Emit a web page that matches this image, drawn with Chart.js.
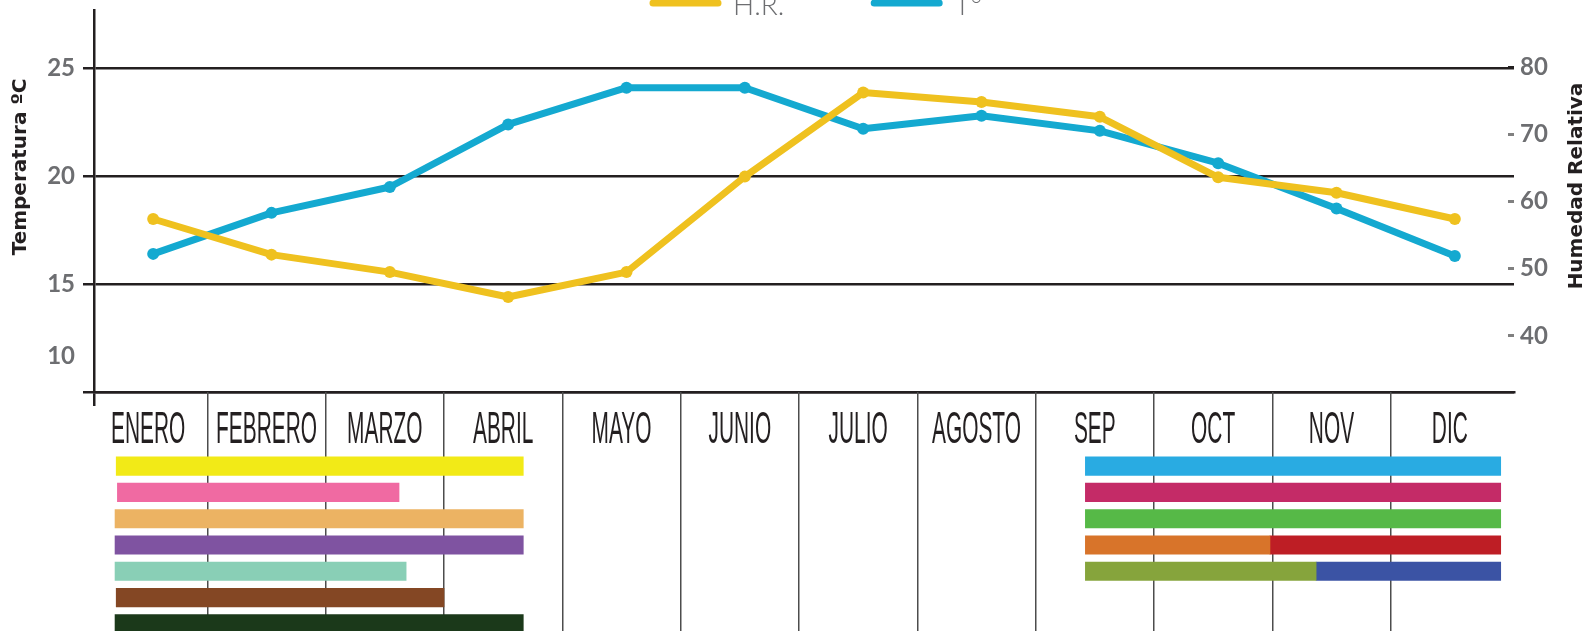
<!DOCTYPE html>
<html lang="es">
<head>
<meta charset="utf-8">
<title>Temperatura y humedad relativa</title>
<script src="https://cdn.jsdelivr.net/npm/chart.js@4.4.1/dist/chart.umd.min.js"></script>
<style>
  html, body { margin: 0; padding: 0; background: #fff; overflow: hidden; }
  #wrap { position: relative; width: 1593px; height: 631px; overflow: hidden; }
  canvas { position: absolute; left: 0; top: 0; }
</style>
</head>
<body>
<div id="wrap">
  <canvas id="lineas" width="1593" height="631" style="width:1593px;height:631px"></canvas>
  <canvas id="barras" width="1593" height="637" style="width:1593px;height:637px"></canvas>
</div>
<script>
const meses = ['ENERO', 'FEBRERO', 'MARZO', 'ABRIL', 'MAYO', 'JUNIO', 'JULIO', 'AGOSTO', 'SEP', 'OCT', 'NOV', 'DIC']
const humedad = [57.4, 52.1, 49.5, 45.8, 49.5, 63.7, 76.2, 74.8, 72.6, 63.6, 61.3, 57.4]
const temperatura = [16.4, 18.3, 19.5, 22.4, 24.1, 24.1, 22.2, 22.8, 22.1, 20.6, 18.5, 16.3]
const ticksTemp = [10, 15, 20, 25]
const ticksHum = [40, 50, 60, 70, 80]

// franjas de abajo, en meses (0 = inicio de enero)
const filas = ['1', '2', '3', '4', '5', '6', '7']
const tramosIzq = [[0.23, 3.67], [0.24, 2.62], [0.22, 3.67], [0.22, 3.67], [0.22, 2.68], [0.23, 3.0], [0.22, 3.67]]
const coloresIzq = ['#f2ea17', '#f06aa2', '#ecb363', '#7f53a1', '#89cfb6', '#844724', '#1b391a']
const tramosDer = [[8.42, 11.93], [8.42, 11.93], [8.42, 11.93], [8.42, 9.98], [8.42, 10.37], null, null]
const coloresDer = ['#29abe2', '#c42b67', '#56b947', '#d8742a', '#86a43c', null, null]
const tramosDer2 = [null, null, null, [9.98, 11.93], [10.37, 11.93], null, null]
const coloresDer2 = [null, null, null, '#be1e25', '#3b53a4', null, null]

const amarillo = '#efc11f'
const azul = '#14a9d0'
const gris = '#6d6e71'
const oscuro = '#231f20'

Chart.defaults.font.family = 'Lato, "DejaVu Sans", sans-serif'

// leyenda arriba (queda medio cortada como en el original)
const leyenda = {
  id: 'leyenda',
  afterDraw(chart) {
    const ctx = chart.ctx
    ctx.save()
    ctx.font = '300 28px Lato, sans-serif'
    ctx.textBaseline = 'alphabetic'
    let x = 653
    chart.data.datasets.forEach(ds => {
      ctx.strokeStyle = ds.borderColor
      ctx.lineWidth = 7
      ctx.lineCap = 'round'
      ctx.beginPath()
      ctx.moveTo(x, 3)
      ctx.lineTo(x + 65, 3)
      ctx.stroke()
      ctx.fillStyle = gris
      ctx.fillText(ds.label, x + 80, 15)
      x += 80 + ctx.measureText(ds.label).width + 90
    })
    ctx.restore()
  }
}

// titulos de los ejes, los dos leidos de abajo hacia arriba
const titulosEjes = {
  id: 'titulosEjes',
  afterDraw(chart) {
    const ctx = chart.ctx
    ctx.save()
    ctx.font = 'bold 20px "DejaVu Sans", sans-serif'
    ctx.fillStyle = oscuro
    ctx.textAlign = 'center'
    ctx.textBaseline = 'middle'
    const titulos = [['Temperatura ºC', 21, 167], ['Humedad Relativa', 1577, 186]]
    titulos.forEach(([t, x, y]) => {
      ctx.save()
      ctx.translate(x, y)
      ctx.rotate(-Math.PI / 2)
      ctx.fillText(t, 0, 0)
      ctx.restore()
    })
    ctx.restore()
  }
}

// nombres de los meses, letra muy condensada
const etiquetasMeses = {
  id: 'etiquetasMeses',
  afterDraw(chart) {
    const { ctx, scales: { x } } = chart
    ctx.save()
    ctx.font = '44px "Liberation Sans", sans-serif'
    ctx.fillStyle = oscuro
    ctx.textAlign = 'center'
    ctx.textBaseline = 'alphabetic'
    meses.forEach((m, i) => {
      ctx.save()
      ctx.translate(x.getPixelForValue(i + 0.5), x.bottom - 10)
      ctx.scale(0.475, 1)
      ctx.fillText(m, 0, 0)
      ctx.restore()
    })
    ctx.restore()
  }
}

// sin margen extra arriba/abajo para que el area quede donde va
const sinRelleno = s => { s.paddingTop = 0; s.paddingBottom = 0 }

new Chart(document.getElementById('lineas'), {
  type: 'line',
  data: {
    labels: meses,
    datasets: [
      {
        label: 'H.R.',
        data: humedad,
        yAxisID: 'yH',
        borderColor: amarillo,
        backgroundColor: amarillo,
        pointBackgroundColor: amarillo,
        borderWidth: 7,
        pointRadius: 6,
        pointBorderWidth: 0,
        borderJoinStyle: 'round',
        borderCapStyle: 'round',
        tension: 0
      },
      {
        label: 'T°',
        data: temperatura,
        yAxisID: 'yT',
        borderColor: azul,
        backgroundColor: azul,
        pointBackgroundColor: azul,
        borderWidth: 7,
        pointRadius: 6,
        pointBorderWidth: 0,
        borderJoinStyle: 'round',
        borderCapStyle: 'round',
        tension: 0
      }
    ]
  },
  options: {
    responsive: false,
    animation: false,
    layout: { padding: { top: 10, bottom: 225, left: 0, right: 0 } },
    plugins: { legend: { display: false }, tooltip: { enabled: false } },
    scales: {
      x: {
        offset: true,
        ticks: { display: false },
        grid: {
          offset: true,
          drawOnChartArea: false,
          tickLength: 14,
          lineWidth: 2.5,
          color: c => c.index === 0 ? oscuro : 'transparent'
        },
        border: { color: oscuro, width: 2.5 }
      },
      yT: {
        position: 'left',
        min: 10,
        max: 27.7,
        afterFit: s => { s.width = 94; sinRelleno(s) },
        afterBuildTicks: s => { s.ticks = ticksTemp.map(v => ({ value: v })) },
        ticks: {
          autoSkip: false,
          color: gris,
          padding: 8,
          font: { weight: 'bold', size: 24, lineHeight: 1.5 },
          // el 10 va dibujado mas arriba que su linea, como en el original
          callback: v => v === 10 ? ['10', '', ''] : v
        },
        grid: { color: oscuro, lineWidth: 2.5, tickLength: 11 },
        border: { color: oscuro, width: 2.5 }
      },
      yH: {
        position: 'right',
        min: 31.67,
        max: 88.48,
        afterFit: s => { s.width = 1593 - 1514; sinRelleno(s) },
        afterBuildTicks: s => { s.ticks = ticksHum.map(v => ({ value: v })) },
        ticks: {
          autoSkip: false,
          color: gris,
          padding: 12,
          font: { weight: 'bold', size: 24 }
        },
        grid: {
          drawOnChartArea: false,
          tickLength: -6,
          lineWidth: 3,
          color: c => (c.tick && c.tick.value === 80) ? oscuro : '#808080'
        },
        border: { display: false }
      }
    }
  },
  plugins: [leyenda, titulosEjes]
})

new Chart(document.getElementById('barras'), {
  type: 'bar',
  data: {
    labels: filas,
    datasets: [
      { label: 'izq', data: tramosIzq, backgroundColor: coloresIzq },
      { label: 'der', data: tramosDer, backgroundColor: coloresDer },
      { label: 'der2', data: tramosDer2, backgroundColor: coloresDer2 }
    ]
  },
  options: {
    indexAxis: 'y',
    responsive: false,
    animation: false,
    layout: { padding: { top: 392, left: 89, right: 1593 - 1509, bottom: 0 } },
    datasets: { bar: { grouped: false, barThickness: 18.5, borderWidth: 0, borderSkipped: false } },
    plugins: { legend: { display: false }, tooltip: { enabled: false } },
    scales: {
      x: {
        type: 'linear',
        position: 'top',
        min: 0,
        max: 12,
        ticks: { display: false, stepSize: 1 },
        border: { display: false },
        grid: {
          tickLength: 61,
          lineWidth: 1.5,
          color: c => (c.tick && c.tick.value > 0 && c.tick.value < 12) ? '#4d4d4d' : 'transparent'
        }
      },
      y: { display: false }
    }
  },
  plugins: [etiquetasMeses]
})
</script>
</body>
</html>
